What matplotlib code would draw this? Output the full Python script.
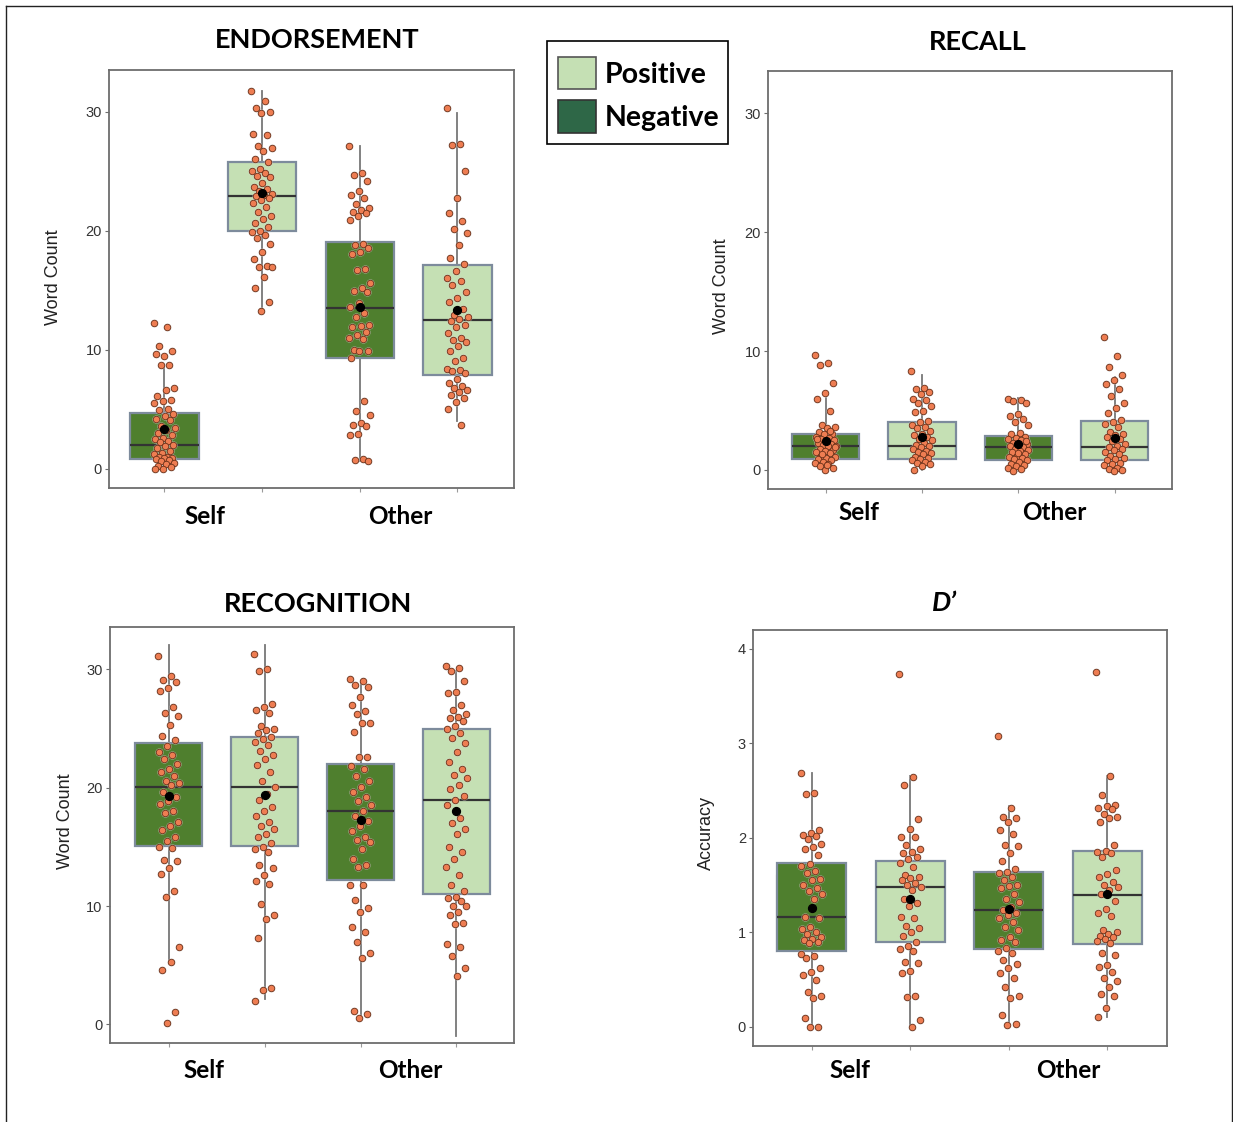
import numpy as np
import matplotlib
matplotlib.use("Agg")
import matplotlib.pyplot as plt
from matplotlib.patches import Rectangle
from matplotlib.lines import Line2D

# === data ===
groups = ["Self", "Self", "Other", "Other"]
valence = ["Negative", "Positive", "Negative", "Positive"]

# ENDORSEMENT (word count)
endorse_self_neg = [12.2, 11.9, 10.3, 9.9, 9.5, 9.6, 8.7, 8.7, 6.8, 6.6, 6.1, 5.8, 5.7, 5.5, 5.0, 4.9,
                    4.6, 4.4, 4.2, 4.1, 3.6, 3.4, 3.2, 3.0, 2.8, 2.6, 2.5, 2.3, 2.2, 2.0, 1.9, 1.7,
                    1.5, 1.3, 1.2, 1.0, 1.0, 0.9, 0.9, 0.8, 0.7, 0.6, 0.5, 0.4, 0.2, 0.1, 0.0, 0.0]
endorse_self_pos = [31.7, 30.9, 30.3, 30.0, 29.9, 28.1, 28.0, 27.1, 26.9, 26.7, 26.0, 25.8, 25.2, 25.0,
                    24.8, 24.6, 24.5, 24.0, 23.7, 23.5, 23.3, 23.1, 23.0, 22.9, 22.7, 22.6, 22.3, 22.0,
                    21.6, 21.2, 21.0, 20.6, 20.3, 20.0, 19.9, 19.6, 19.4, 18.9, 18.2, 17.6, 17.0, 16.9,
                    16.9, 16.1, 15.2, 14.0, 13.2]
endorse_other_neg = [27.1, 24.8, 24.7, 24.2, 23.3, 23.0, 22.7, 22.2, 21.9, 21.7, 21.6, 21.5, 21.2, 20.9,
                     18.9, 18.8, 18.5, 18.2, 18.0, 16.8, 16.7, 15.6, 15.2, 14.9, 14.8, 13.9, 13.6, 13.1,
                     12.7, 12.1, 12.0, 11.9, 11.5, 11.2, 11.0, 10.9, 10.0, 9.9, 9.9, 9.3, 5.7, 4.8, 4.5,
                     3.8, 3.7, 3.6, 2.9, 2.8, 0.8, 0.7, 0.6]
endorse_other_pos = [30.3, 27.3, 27.2, 25.0, 22.7, 21.5, 20.8, 20.1, 19.8, 18.8, 17.7, 17.2, 16.6, 16.0,
                     15.8, 15.4, 14.8, 14.3, 14.0, 13.4, 12.9, 12.7, 12.6, 12.4, 12.1, 11.9, 11.4, 11.0,
                     10.8, 10.6, 10.3, 9.9, 9.3, 9.0, 8.4, 8.3, 8.2, 8.0, 7.5, 7.2, 6.9, 6.8, 6.6, 6.4,
                     6.2, 5.9, 5.6, 5.0, 3.7]
endorse_q1 = [0.8, 20.0, 9.3, 7.9]
endorse_med = [2.0, 22.9, 13.5, 12.45]
endorse_q3 = [4.65, 25.8, 19.0, 17.1]
endorse_lo = [0.0, 13.3, 0.66, 3.96]
endorse_hi = [8.6, 31.7, 27.1, 29.85]
endorse_mean = [3.36, 23.15, 13.6, 13.3]

# RECALL (word count)
recall_self_neg = [9.7, 9.0, 8.8, 7.3, 6.5, 6.0, 5.0, 3.8, 3.6, 3.5, 3.2, 3.0, 3.0, 2.8, 2.7, 2.6, 2.5,
                   2.4, 2.3, 2.2, 2.1, 2.0, 2.0, 1.8, 1.7, 1.6, 1.5, 1.4, 1.2, 1.1, 1.0, 0.9, 0.8, 0.7,
                   0.6, 0.5, 0.3, 0.2, 0.0, 2.6, 3.3, 1.3, 1.9, 0.4]
recall_self_pos = [8.3, 6.9, 6.8, 6.6, 6.4, 6.0, 5.9, 5.6, 5.4, 5.0, 4.9, 4.1, 4.0, 3.8, 3.6, 3.5, 3.3,
                   3.0, 2.9, 2.8, 2.6, 2.5, 2.3, 2.1, 2.0, 1.9, 1.8, 1.6, 1.5, 1.4, 1.3, 1.1, 1.0, 0.9,
                   0.8, 0.7, 0.6, 0.5, 0.3, 0.0]
recall_other_neg = [6.0, 5.9, 5.8, 5.6, 4.7, 4.5, 4.3, 4.0, 3.8, 3.1, 3.0, 2.8, 2.7, 2.6, 2.5, 2.3, 2.2,
                    2.1, 2.0, 1.9, 1.8, 1.7, 1.6, 1.5, 1.3, 1.2, 1.1, 1.0, 0.9, 0.8, 0.7, 0.5, 0.4, 0.3,
                    0.2, 0.1, -0.1, 2.4, 1.4]
recall_other_pos = [11.2, 9.6, 8.7, 8.0, 7.6, 7.2, 6.8, 6.2, 5.6, 5.2, 4.8, 4.2, 4.0, 3.9, 3.6, 3.2, 3.0,
                    2.9, 2.8, 2.6, 2.4, 2.2, 2.0, 1.9, 1.8, 1.7, 1.5, 1.3, 1.2, 1.0, 0.9, 0.8, 0.6, 0.5,
                    0.4, 0.2, 0.1, 0.0, -0.1]
recall_q1 = [0.93, 0.93, 0.84, 0.8]
recall_med = [2.0, 2.0, 1.9, 1.9]
recall_q3 = [3.0, 4.0, 2.86, 4.15]
recall_lo = [0.0, 0.0, -0.1, -0.1]
recall_hi = [6.05, 8.0, 6.05, 7.8]
recall_mean = [2.4, 2.8, 2.17, 2.7]

# RECOGNITION (word count)
recog_self_neg = [31.1, 29.4, 29.1, 28.9, 28.4, 28.2, 26.8, 26.3, 26.1, 25.3, 24.4, 24.0, 23.5, 23.0,
                  22.8, 22.4, 22.0, 21.6, 21.3, 21.0, 20.6, 20.4, 20.2, 19.6, 19.2, 18.9, 18.6, 18.0,
                  17.9, 17.1, 16.8, 16.4, 15.8, 15.5, 15.0, 14.9, 13.9, 13.8, 13.2, 12.7, 11.3, 10.8,
                  6.5, 5.3, 4.6, 1.0, 0.1]
recog_self_pos = [31.3, 30.0, 29.9, 27.1, 26.8, 26.6, 26.3, 25.2, 25.0, 24.9, 24.6, 24.3, 24.1, 23.9,
                  23.6, 23.1, 22.8, 22.4, 21.9, 21.3, 20.6, 20.1, 19.5, 19.0, 18.4, 18.0, 17.6, 17.1,
                  16.8, 16.5, 16.1, 15.8, 15.3, 15.0, 14.8, 14.6, 13.5, 13.2, 12.6, 12.1, 11.9, 10.2,
                  9.2, 8.9, 7.3, 3.1, 2.9, 2.0]
recog_other_neg = [29.2, 29.0, 28.7, 28.5, 27.7, 27.0, 26.5, 26.2, 25.5, 25.5, 24.7, 22.6, 22.6, 21.8,
                   21.6, 21.0, 20.6, 20.1, 19.6, 19.2, 18.9, 18.5, 18.0, 17.6, 17.2, 16.8, 16.3, 15.8,
                   15.6, 15.4, 14.8, 14.0, 13.5, 13.3, 11.8, 11.8, 10.5, 9.8, 9.5, 8.2, 7.8, 7.0, 6.0,
                   5.6, 1.1, 0.9, 0.5]
recog_other_pos = [30.3, 30.1, 29.9, 29.0, 28.1, 28.0, 27.0, 26.6, 26.2, 26.0, 25.9, 25.6, 25.2, 25.0,
                   24.6, 24.2, 23.8, 23.0, 22.2, 21.6, 21.1, 20.8, 20.2, 19.9, 19.3, 19.0, 18.5, 17.4,
                   17.0, 16.5, 16.1, 15.0, 14.6, 14.0, 13.3, 12.6, 11.8, 11.3, 10.8, 10.7, 10.4, 10.0,
                   10.0, 9.5, 9.2, 8.6, 8.5, 6.8, 6.5, 5.8, 4.8, 4.1]
recog_q1 = [15.1, 15.1, 12.2, 11.0]
recog_med = [20.1, 20.1, 18.0, 19.0]
recog_q3 = [23.8, 24.3, 22.0, 25.0]
recog_lo = [5.3, 2.1, 0.6, -1.0]
recog_hi = [32.1, 32.1, 29.0, 29.9]
recog_mean = [19.3, 19.35, 17.3, 18.0]

# D' (accuracy)
dprime_self_neg = [2.68, 2.47, 2.46, 2.08, 2.05, 2.03, 2.02, 1.99, 1.93, 1.90, 1.88, 1.82, 1.72, 1.70,
                   1.65, 1.63, 1.56, 1.55, 1.50, 1.47, 1.44, 1.40, 1.35, 1.16, 1.15, 1.05, 1.03, 1.00,
                   0.98, 0.95, 0.93, 0.92, 0.90, 0.89, 0.77, 0.75, 0.73, 0.62, 0.58, 0.55, 0.49, 0.37,
                   0.33, 0.30, 0.09, 0.00, 0.00]
dprime_self_pos = [3.73, 2.64, 2.56, 2.20, 2.09, 2.01, 2.01, 1.92, 1.88, 1.85, 1.84, 1.80, 1.77, 1.73,
                   1.69, 1.60, 1.58, 1.57, 1.55, 1.52, 1.50, 1.48, 1.45, 1.35, 1.31, 1.28, 1.16, 1.15,
                   1.07, 1.04, 1.00, 0.96, 0.90, 0.85, 0.82, 0.80, 0.68, 0.67, 0.59, 0.57, 0.33, 0.31,
                   0.07, 0.00]
dprime_other_neg = [3.08, 2.31, 2.22, 2.21, 2.17, 2.08, 2.04, 1.92, 1.91, 1.84, 1.75, 1.67, 1.64, 1.63,
                    1.58, 1.55, 1.50, 1.49, 1.47, 1.40, 1.35, 1.32, 1.27, 1.23, 1.20, 1.18, 1.15, 1.11,
                    1.05, 1.02, 0.95, 0.92, 0.90, 0.83, 0.80, 0.78, 0.71, 0.66, 0.62, 0.57, 0.52, 0.42,
                    0.33, 0.30, 0.12, 0.03, 0.02]
dprime_other_pos = [3.75, 2.65, 2.45, 2.35, 2.33, 2.31, 2.30, 2.25, 2.22, 2.21, 2.17, 1.92, 1.86, 1.85,
                    1.84, 1.80, 1.66, 1.62, 1.58, 1.53, 1.50, 1.48, 1.45, 1.40, 1.33, 1.25, 1.20, 1.17,
                    1.02, 1.00, 0.98, 0.96, 0.95, 0.93, 0.91, 0.89, 0.78, 0.76, 0.65, 0.63, 0.58, 0.52,
                    0.48, 0.42, 0.35, 0.33, 0.20, 0.10]
dprime_q1 = [0.80, 0.90, 0.82, 0.88]
dprime_med = [1.16, 1.48, 1.23, 1.39]
dprime_q3 = [1.73, 1.75, 1.64, 1.86]
dprime_lo = [0.0, 0.0, 0.03, 0.10]
dprime_hi = [2.68, 2.65, 2.33, 2.65]
dprime_mean = [1.26, 1.35, 1.25, 1.40]

# === style ===
W, H = 1233, 1122
DARK = "#4f7f2e"
LIGHT = "#c5e0b4"
LEG_DARK = "#2e6747"
BOX_EDGE = "#7d8b9c"
POINT = "#ee7d52"
POINT_EDGE = "#6b3018"
SANS = ["Liberation Sans", "DejaVu Sans"]
BOLD = ["Lato", "DejaVu Sans"]


def fx(px):
    return px / W


def fy(py):
    return 1 - py / H


def make_axes(fig, left, top, right, bottom):
    return fig.add_axes([fx(left), fy(bottom), fx(right) - fx(left), fy(top) - fy(bottom)])


def draw_panel(ax, pts, q1, med, q3, lo, hi, mean, xlim, ylim, yticks):
    stats = []
    for i in range(4):
        stats.append(dict(med=med[i], q1=q1[i], q3=q3[i], whislo=lo[i], whishi=hi[i]))
    bp = ax.bxp(stats, positions=[1, 2, 3, 4], widths=0.7, showfliers=False, showcaps=False,
                patch_artist=True,
                boxprops=dict(edgecolor=BOX_EDGE, linewidth=1.6),
                medianprops=dict(color="#333333", linewidth=1.6),
                whiskerprops=dict(color="#777777", linewidth=1.3))
    for i, patch in enumerate(bp["boxes"]):
        patch.set_facecolor(DARK if valence[i] == "Negative" else LIGHT)
        patch.set_zorder(2)
    for m in bp["medians"]:
        m.set_zorder(2.5)
    for w in bp["whiskers"]:
        w.set_zorder(1.5)

    for i, vals in enumerate(pts):
        vals = np.asarray(vals)
        n = len(vals)
        offs = ((np.arange(n) * 0.6180339) % 1 - 0.5) * 0.22
        xs = (i + 1) + offs
        ax.scatter(xs, vals, s=36, color="#dcdcdc", alpha=0.6, linewidths=0, zorder=3)
        ax.scatter(xs, vals, s=22, color=POINT, edgecolors=POINT_EDGE, linewidths=0.6, zorder=4)
    ax.scatter([1, 2, 3, 4], mean, s=32, color="black", zorder=5)

    ax.set_xlim(*xlim)
    ax.set_ylim(*ylim)
    ax.set_yticks(yticks)
    ax.set_xticks([1, 2, 3, 4])
    ax.set_xticklabels([])
    for s in ax.spines.values():
        s.set_color("#6d6d6d")
        s.set_linewidth(1.3)
    ax.tick_params(axis="y", colors="#6d6d6d", labelcolor="#333333", length=3, width=0.8,
                   labelsize=10.5, pad=2)
    ax.tick_params(axis="x", colors="#9a9a9a", length=3, width=0.8)
    for lab in ax.get_yticklabels():
        lab.set_family(SANS)


fig = plt.figure(figsize=(W / 100, H / 100), dpi=100)

ax1 = make_axes(fig, 108.7, 70.4, 514, 487.5)
draw_panel(ax1, [endorse_self_neg, endorse_self_pos, endorse_other_neg, endorse_other_pos],
           endorse_q1, endorse_med, endorse_q3, endorse_lo, endorse_hi, endorse_mean,
           (0.43, 4.58), (-1.59, 33.46), [0, 10, 20, 30])

ax2 = make_axes(fig, 767.8, 70.7, 1172.4, 488.6)
draw_panel(ax2, [recall_self_neg, recall_self_pos, recall_other_neg, recall_other_pos],
           recall_q1, recall_med, recall_q3, recall_lo, recall_hi, recall_mean,
           (0.4, 4.6), (-1.57, 33.6), [0, 10, 20, 30])

ax3 = make_axes(fig, 109.5, 626.8, 514, 1042.9)
draw_panel(ax3, [recog_self_neg, recog_self_pos, recog_other_neg, recog_other_pos],
           recog_q1, recog_med, recog_q3, recog_lo, recog_hi, recog_mean,
           (0.38, 4.6), (-1.57, 33.6), [0, 10, 20, 30])

ax4 = make_axes(fig, 752.9, 629.6, 1166.5, 1045.7)
draw_panel(ax4, [dprime_self_neg, dprime_self_pos, dprime_other_neg, dprime_other_pos],
           dprime_q1, dprime_med, dprime_q3, dprime_lo, dprime_hi, dprime_mean,
           (0.405, 4.6), (-0.2, 4.2), [0, 1, 2, 3, 4])
# faint stray line left of the first D' box
ax4.plot([0.64, 0.64], [0.8, 1.61], color="#e2e2e2", lw=1, zorder=1)

# titles
fig.text(fx(317.5), fy(40), "ENDORSEMENT", family=BOLD, weight="bold", fontsize=19.5,
         ha="center", va="center")
fig.text(fx(977.7), fy(42), "RECALL", family=BOLD, weight="bold", fontsize=19.5,
         ha="center", va="center")
fig.text(fx(318), fy(603.6), "RECOGNITION", family=BOLD, weight="bold", fontsize=19.5,
         ha="center", va="center")
fig.text(fx(944.5), fy(603), "D\u2019", family=BOLD, weight="bold", style="italic", fontsize=19.5,
         ha="center", va="center")

# y labels
fig.text(fx(53), fy(277), "Word Count", family=SANS, fontsize=13, rotation=90,
         ha="center", va="center", color="#222222")
fig.text(fx(721), fy(286), "Word Count", family=SANS, fontsize=13, rotation=90,
         ha="center", va="center", color="#222222")
fig.text(fx(65), fy(820.7), "Word Count", family=SANS, fontsize=13, rotation=90,
         ha="center", va="center", color="#222222")
fig.text(fx(706), fy(833), "Accuracy", family=SANS, fontsize=13, rotation=90,
         ha="center", va="center", color="#222222")

# group labels
for (x, y, t) in [(205, 516, "Self"), (400, 516, "Other"),
                  (858.5, 512, "Self"), (1054, 512, "Other"),
                  (203.6, 1070.7, "Self"), (410, 1070.7, "Other"),
                  (850, 1070.7, "Self"), (1068.8, 1070.7, "Other")]:
    fig.text(fx(x), fy(y), t, family=BOLD, weight="bold", fontsize=17.5, ha="center", va="center")

# legend
fig.patches.append(Rectangle((fx(547), fy(144)), fx(728) - fx(547), fy(41) - fy(144),
                             transform=fig.transFigure, fill=False, edgecolor="black", lw=1.2))
fig.patches.append(Rectangle((fx(558), fy(89)), fx(596) - fx(558), fy(57) - fy(89),
                             transform=fig.transFigure, facecolor=LIGHT, edgecolor="#555555", lw=1.2))
fig.patches.append(Rectangle((fx(558), fy(133)), fx(596) - fx(558), fy(100) - fy(133),
                             transform=fig.transFigure, facecolor=LEG_DARK, edgecolor="#333333", lw=1.2))
fig.text(fx(605), fy(75), "Positive", family=BOLD, weight="bold", fontsize=20.5, ha="left", va="center")
fig.text(fx(605), fy(118), "Negative", family=BOLD, weight="bold", fontsize=20.5, ha="left", va="center")

# outer frame of the figure (top, left, right)
for xs, ys in [((6, 1232), (6, 6)), ((6, 6), (6, 1122)), ((1232, 1232), (6, 1122))]:
    fig.lines.append(Line2D([fx(xs[0]), fx(xs[1])], [fy(ys[0]), fy(ys[1])],
                            transform=fig.transFigure, color="#222222", lw=1))

fig.savefig("out.png", dpi=100)
